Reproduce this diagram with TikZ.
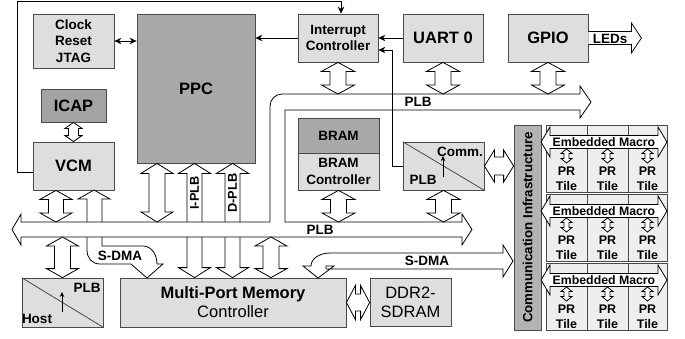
\documentclass[tikz,border=0pt]{standalone}
\usepackage{fontspec}
\setmainfont{Liberation Sans}
\usetikzlibrary{calc,arrows.meta}
\definecolor{lightg}{HTML}{DEDEDE}
\definecolor{darkg}{HTML}{A9A9A9}
\definecolor{icapg}{HTML}{A3A3A3}
\definecolor{cinfg}{HTML}{B3B3B3}
\definecolor{tileg}{HTML}{EEEEEE}
\definecolor{bordc}{HTML}{4A4A4A}
% vertical hollow double arrow: top point, bottom point, shaft half width, head half width, head length
\newcommand{\myvd}[5]{\draw[hollow] let \p1=#1, \p2=#2 in (\x1,\y1) -- (\x1+#4pt,\y1-#5pt) -- (\x1+#3pt,\y1-#5pt) -- (\x1+#3pt,\y2+#5pt) -- (\x1+#4pt,\y2+#5pt) -- (\x1,\y2) -- (\x1-#4pt,\y2+#5pt) -- (\x1-#3pt,\y2+#5pt) -- (\x1-#3pt,\y1-#5pt) -- (\x1-#4pt,\y1-#5pt) -- cycle;}
% horizontal hollow double arrow: left point, right point, shaft half width, head half width, head length
\newcommand{\myhd}[5]{\draw[hollow] let \p1=#1, \p2=#2 in (\x1,\y1) -- (\x1+#5pt,\y1+#4pt) -- (\x1+#5pt,\y1+#3pt) -- (\x2-#5pt,\y1+#3pt) -- (\x2-#5pt,\y1+#4pt) -- (\x2,\y1) -- (\x2-#5pt,\y1-#4pt) -- (\x2-#5pt,\y1-#3pt) -- (\x1+#5pt,\y1-#3pt) -- (\x1+#5pt,\y1-#4pt) -- cycle;}
\begin{document}
\begin{tikzpicture}[x=1pt,y=-1pt,
 box/.style={draw=bordc,line width=0.8pt,fill=lightg,inner sep=0pt,align=center,font=\fontsize{13.5}{16.5}\selectfont\bfseries},
 wh/.style 2 args={minimum width=#1pt,minimum height=#2pt},
 big/.style={font=\fontsize{16.5}{19}\selectfont},
 bigb/.style={font=\fontsize{16.5}{19}\selectfont\bfseries},
 lbl/.style={inner sep=0pt,align=center,font=\fontsize{13.5}{16}\selectfont\bfseries},
 hollow/.style={draw=black,fill=white,line width=0.8pt,line join=miter},
 wire/.style={draw=black,line width=1pt,-{Stealth[length=7pt,width=6.5pt]}},
 thinarr/.style={draw=black,line width=0.8pt,-{Stealth[length=5pt,width=4.5pt]}},
 divl/.style={draw=bordc,line width=0.8pt}]
\useasboundingbox (0,0) rectangle (685,338);

% ---------- boxes ----------
\node[box,wh={81}{54}] (clk) at (73.5,41) {Clock\\Reset\\JTAG};
\node[box,fill=darkg,bigb,wh={118}{149}] (ppc) at (196,88.5) {PPC};
\node[box,fill=icapg,bigb,wh={65}{33}] (icap) at (73.5,105.5) {ICAP};
\node[box,bigb,wh={81}{48}] (vcm) at (73.5,166) {VCM};
\node[box,wh={80}{48}] (ic) at (338,38) {Interrupt\\Controller};
\node[box,bigb,wh={80}{48}] (uart) at (443,38) {UART 0};
\node[box,bigb,wh={80}{48}] (gpio) at (548,38) {GPIO};
\node[box,fill=darkg,wh={81}{35}] (bram) at (338.5,135.5) {BRAM};
\node[box,wh={81}{37}] (bramc) at (338.5,171.5) {BRAM\\Controller};
\node[box,wh={81}{48}] (comm) at (443.5,166) {};
\node[box,fill=cinfg,wh={27}{205}] (cinf) at (527.5,227.5) {};
\node[lbl,rotate=90,font=\fontsize{13.3}{15}\selectfont\bfseries] (cinft) at (cinf.center) {Communication Infrastructure};
\node[box,wh={81}{49}] (host) at (62.5,302.5) {};
\node[box,big,wh={226}{49}] (mpmc) at (233,302.5) {{\bfseries Multi-Port Memory}\\Controller};
\node[box,big,wh={81}{48}] (ddr) at (410.5,302) {DDR2-\\SDRAM};

% ---------- helper coordinates ----------
\coordinate (busT) at (0,222);
\coordinate (busB) at (0,237);
\coordinate (plbT) at (0,94);
\coordinate (ipx) at (194.5,0);
\coordinate (dpx) at (232.5,0);
\coordinate (ppx) at (157,0);
\coordinate (vx) at (56,0);
\coordinate (mx) at (271,0);

% ---------- connectors behind the bus ----------
\myvd{(ipx |- ppc.south)}{(ipx |- mpmc.north)}{7.5}{16}{10}
\myvd{(dpx |- ppc.south)}{(dpx |- mpmc.north)}{7.5}{16}{10}
% S-DMA from MPMC up to VCM
\draw[hollow] (94,190) -- (110,199) -- (102,199) -- (102,246) -- (143,246)
  .. controls (151,246) and (157,254) .. (157,264) -- (163,264) -- (147,278) -- (131,264) -- (100,264)
  .. controls (92,264) and (87,258) .. (87,250) -- (87,199) -- (78,199) -- cycle;

% ---------- PLB bus ----------
\draw[hollow] (12,229.5) -- (21,214) -- (21,222) -- (270,222) -- (270,106)
  .. controls (270,99.4) and (275.4,94) .. (282,94) -- (580,94) -- (580,86) -- (591,102)
  -- (580,118) -- (580,110) -- (285,110) -- (285,222) -- (462,222) -- (462,214)
  -- (472,229.5) -- (462,245) -- (462,237) -- (21,237) -- (21,245) -- cycle;
\node[lbl] (plbu) at (418,102) {PLB};
\node[lbl] (plbl) at (320,229.5) {PLB};

% ---------- connectors to the bus ----------
\myvd{(icap.south)}{(vcm.north)}{5}{8.5}{6}
\myvd{(ic.south)}{(ic.south |- plbT)}{8}{16.5}{9}
\myvd{(uart.south)}{(uart.south |- plbT)}{8}{16.5}{9}
\myvd{(gpio.south)}{(gpio.south |- plbT)}{8}{16.5}{9}
\myvd{(bramc.south)}{(bramc.south |- busT)}{8}{16.5}{9}
\myvd{(comm.south)}{(comm.south |- busT)}{8}{16.5}{9}
\myvd{(ppx |- ppc.south)}{(ppx |- busT)}{8}{16}{10}
\myvd{(vx |- vcm.south)}{(vx |- busT)}{7.5}{16}{9}
\myvd{(host.north |- busB)}{(host.north)}{8}{16}{9}
\myvd{(mx |- busB)}{(mx |- mpmc.north)}{8}{16}{9}
\myhd{(comm.east)}{(comm.east -| cinf.west)}{9}{16}{10}
\myhd{(mpmc.east)}{(mpmc.east -| ddr.west)}{8.5}{17}{9}

% LEDs
\draw[hollow] let \p1=(gpio.east) in (\x1,\y1+6.5pt) -- (\x1+43pt,\y1+6.5pt) -- (\x1+43pt,\y1+15pt) -- (\x1+53pt,\y1) -- (\x1+43pt,\y1-15pt) -- (\x1+43pt,\y1-6.5pt) -- (\x1,\y1-6.5pt);
\node[lbl] (leds) at (610,38.5) {LEDs};

% S-DMA to communication infrastructure
\draw[hollow] (513,261) -- (503,245) -- (503,253) -- (330,253)
  .. controls (319,253) and (311,259) .. (311,266) -- (303,266) -- (318,278) -- (334,266)
  -- (326,266) -- (326,269) -- (503,269) -- (503,277) -- cycle;
\node[lbl] (sdma1) at (120,255.5) {S-DMA};
\node[lbl] (sdma2) at (427,261) {S-DMA};

% I-PLB / D-PLB labels
\node[lbl,rotate=90,font=\fontsize{12.8}{14}\selectfont\bfseries] (iplb) at (194.5,193) {I-PLB};
\node[lbl,rotate=90,font=\fontsize{12.8}{14}\selectfont\bfseries] (dplb) at (232.5,193) {D-PLB};

% ---------- Comm and Host boxes internals ----------
\draw[divl] (comm.north west) -- (comm.south east);
\node[lbl] (commt) at (460,152) {Comm.};
\node[lbl] (commp) at (423,180) {PLB};
\draw[thinarr] (443,177) -- (443,156);
\draw[divl] (host.north west) -- (host.south east);
\node[lbl] (hostp) at (87,288) {PLB};
\node[lbl] (hostt) at (37,319) {Host};
\draw[thinarr] (62,312) -- (62,292);

% ---------- wires ----------
\draw[wire,{Stealth[length=7pt,width=6.5pt]}-{Stealth[length=7pt,width=6.5pt]}] (clk.east) -- (clk.east -| ppc.west);
\draw[wire] (ic.west) -- (ic.west -| ppc.east);
\draw[wire] (uart.west) -- (uart.west -| ic.east);
\coordinate (cw) at (392,50);
\draw[wire] (comm.west) -| (cw) -- (cw -| ic.east);
\coordinate (tl) at (17,1.2);
\coordinate (tr) at (341,1.2);
\draw[wire] ($(vcm.west)+(0,6)$) -| (tl) -- (tr) -- (tr |- ic.north);

% ---------- tiles ----------
\foreach \ry in {125,194,263}{
  \node[draw=bordc,fill=tileg,line width=0.8pt,inner sep=0pt,minimum width=121pt,minimum height=67pt] (row\ry) at (606.5,\ry+33.5) {};
  \draw[divl] (587,\ry) -- (587,\ry+67);
  \draw[divl] (628,\ry) -- (628,\ry+67);
  \myhd{(541,\ry+17)}{(667,\ry+17)}{6.5}{15}{9}
  \node[lbl,font=\fontsize{12.3}{14}\selectfont\bfseries] at (604,\ry+17) {Embedded Macro};
  \foreach \cx in {566.5,607.5,647.5}{
    \myvd{(\cx,\ry+24)}{(\cx,\ry+38)}{2.5}{5.5}{4.5}
    \node[lbl,font=\fontsize{12.5}{14.5}\selectfont\bfseries] at (\cx,\ry+54) {PR\\Tile};
  }
}
\end{tikzpicture}
\end{document}
